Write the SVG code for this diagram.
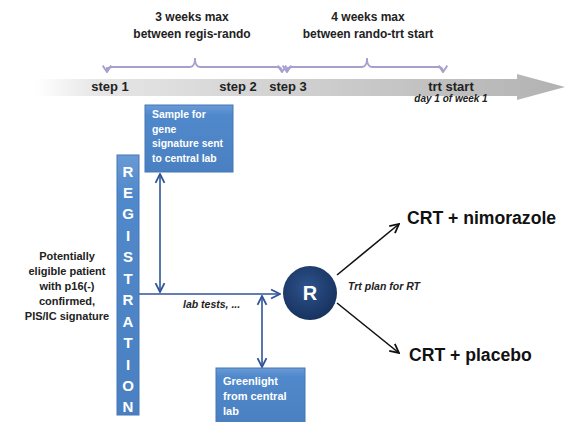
<svg xmlns="http://www.w3.org/2000/svg" width="566" height="422" viewBox="0 0 566 422">
<defs>
<linearGradient id="band" x1="0" y1="0" x2="1" y2="0">
<stop offset="0" stop-color="#ffffff"/>
<stop offset="0.12" stop-color="#e6e6e6"/>
<stop offset="1" stop-color="#b2b2b2"/>
</linearGradient>
<linearGradient id="box" x1="0" y1="0" x2="0" y2="1">
<stop offset="0" stop-color="#6a9ad6"/>
<stop offset="0.15" stop-color="#5089cb"/>
<stop offset="1" stop-color="#4a80c2"/>
</linearGradient>
<radialGradient id="circ" cx="0.45" cy="0.4" r="0.6">
<stop offset="0" stop-color="#2e538c"/>
<stop offset="1" stop-color="#17325f"/>
</radialGradient>
<marker id="ab" viewBox="0 0 10 10" refX="9" refY="5" markerWidth="7" markerHeight="7" orient="auto-start-reverse">
<path d="M1,1 L9,5 L1,9" fill="none" stroke="#2f5597" stroke-width="1.6"/>
</marker>
<marker id="ak" viewBox="0 0 10 10" refX="9" refY="5" markerWidth="7" markerHeight="7" orient="auto">
<path d="M1,1 L9,5 L1,9" fill="none" stroke="#111" stroke-width="1.6"/>
</marker>
<marker id="al" viewBox="0 0 10 10" refX="5" refY="9" markerWidth="6" markerHeight="6" orient="0">
<path d="M1,3 L5,9 L9,3" fill="none" stroke="#a99fcf" stroke-width="1.8"/>
</marker>
</defs>
<style>
.t{font-family:"Liberation Sans",Arial,sans-serif;font-weight:bold;fill:#222}
.w{font-family:"Liberation Sans",Arial,sans-serif;font-weight:bold;fill:#fff}
.i{font-family:"Liberation Sans",Arial,sans-serif;font-weight:bold;font-style:italic;fill:#222}
.bx{fill:url(#box);stroke:#4576b3;stroke-width:1}
.br{fill:none;stroke:#a99fcf;stroke-width:1.8}
.bl{fill:none;stroke:#2f5597;stroke-width:1.6}
.bk{fill:none;stroke:#111;stroke-width:1.6}
</style>
<g id="timeline">
<path d="M35,79 L517,79 L517,74 L565,87 L517,100 L517,96 L35,96 Z" fill="url(#band)"/>
<text class="t" x="192" y="21" font-size="12" text-anchor="middle">3 weeks max</text>
<text class="t" x="192" y="38" font-size="12" text-anchor="middle">between regis-rando</text>
<text class="t" x="368" y="21" font-size="12" text-anchor="middle">4 weeks max</text>
<text class="t" x="368" y="38" font-size="12" text-anchor="middle">between rando-trt start</text>
<path class="br" d="M107,72 Q107,67 112,67 L190,67 Q195,67 195,58 Q195,67 200,67 L277,67 Q282,67 282,72" marker-end="url(#al)"/>
<path class="br" d="M107,67 L107,72" marker-end="url(#al)"/>
<path class="br" d="M287,72 Q287,67 292,67 L362,67 Q367,67 367,58 Q367,67 372,67 L438,67 Q443,67 443,72" marker-end="url(#al)"/>
<path class="br" d="M287,67 L287,72" marker-end="url(#al)"/>
<text class="t" x="110" y="91" font-size="13" text-anchor="middle">step 1</text>
<text class="t" x="238" y="91" font-size="13" text-anchor="middle">step 2</text>
<text class="t" x="288" y="91" font-size="13" text-anchor="middle">step 3</text>
<text class="t" x="451" y="91" font-size="13" text-anchor="middle">trt start</text>
<text class="i" x="451" y="102" font-size="10" text-anchor="middle">day 1 of week 1</text>
</g>
<g id="connectors">
<line class="bl" x1="139" y1="294" x2="280" y2="294" marker-end="url(#ab)"/>
<line class="bl" x1="160" y1="174" x2="160" y2="292" marker-start="url(#ab)" marker-end="url(#ab)"/>
<line class="bl" x1="262" y1="296" x2="262" y2="367" marker-start="url(#ab)" marker-end="url(#ab)"/>
<line class="bk" x1="337" y1="275" x2="399" y2="224" marker-end="url(#ak)"/>
<line class="bk" x1="337" y1="303" x2="399" y2="353" marker-end="url(#ak)"/>
<text class="i" x="183" y="308" font-size="10.5">lab tests, ...</text>
<text class="i" x="348" y="290" font-size="10.5">Trt plan for RT</text>
</g>
<g id="sample">
<rect class="bx" x="145" y="105" width="88" height="67"/>
<text class="w" font-size="10.4"><tspan x="152" y="118">Sample for</tspan><tspan x="152" y="133">gene</tspan><tspan x="152" y="147">signature sent</tspan><tspan x="152" y="162">to central lab</tspan></text>
</g>
<g id="registration">
<rect class="bx" x="117" y="155" width="22" height="260"/>
<text class="w" font-size="15" text-anchor="middle">
<tspan x="128" y="177">R</tspan><tspan x="128" y="198">E</tspan><tspan x="128" y="219">G</tspan><tspan x="128" y="241">I</tspan><tspan x="128" y="262">S</tspan><tspan x="128" y="284">T</tspan><tspan x="128" y="305">R</tspan><tspan x="128" y="327">A</tspan><tspan x="128" y="348">T</tspan><tspan x="128" y="370">I</tspan><tspan x="128" y="391">O</tspan><tspan x="128" y="412">N</tspan>
</text>
</g>
<g id="patient">
<text class="t" font-size="11" text-anchor="middle"><tspan x="67" y="260">Potentially</tspan><tspan x="67" y="275">eligible patient</tspan><tspan x="67" y="290">with p16(-)</tspan><tspan x="67" y="305">confirmed,</tspan><tspan x="67" y="320">PIS/IC signature</tspan></text>
</g>
<g id="greenlight">
<rect class="bx" x="216" y="368" width="89" height="56"/>
<text class="w" font-size="11"><tspan x="223" y="385">Greenlight</tspan><tspan x="223" y="400">from central</tspan><tspan x="223" y="415">lab</tspan></text>
</g>
<g id="rando">
<circle cx="310" cy="293" r="27" fill="url(#circ)"/>
<text class="w" x="310" y="300" font-size="20" text-anchor="middle">R</text>
</g>
<g id="arm1">
<text class="t" x="407" y="224" font-size="17.6" style="fill:#111">CRT + nimorazole</text>
</g>
<g id="arm2">
<text class="t" x="409" y="361" font-size="17.6" style="fill:#111">CRT + placebo</text>
</g>
</svg>
